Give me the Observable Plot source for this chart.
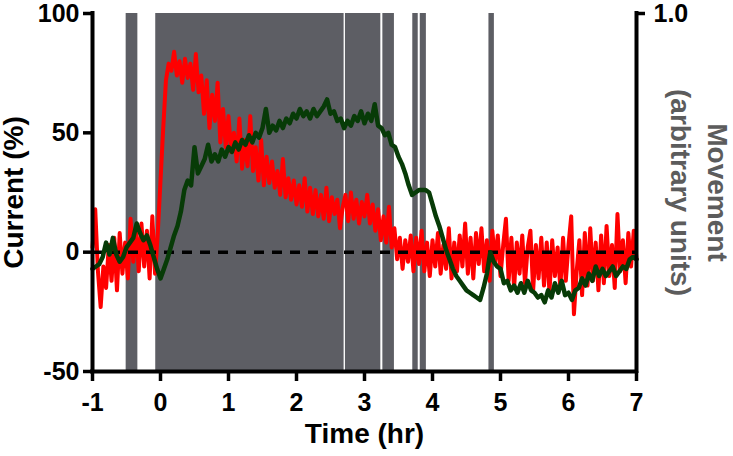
<!DOCTYPE html>
<html>
<head>
<meta charset="utf-8">
<script src="https://cdn.jsdelivr.net/npm/d3@7"></script>
<script src="https://cdn.jsdelivr.net/npm/@observablehq/plot@0.6"></script>
<style>
  html, body { margin: 0; padding: 0; background: #fff; }
  svg { display: block; }
</style>
</head>
<body>
<div id="chart"></div>
<script>
// ---------- data ----------
const timeTicks = [-1, 0, 1, 2, 3, 4, 5, 6, 7];
const currentTicks = [-50, 0, 50, 100];
const movementTicks = [1.0];

// movement periods (hours) and level (arbitrary units)
const moveStart = [-0.505, -0.07, 2.72, 3.27, 3.71, 3.82, 4.83];
const moveEnd   = [-0.333, 2.70, 3.24, 3.44, 3.79, 3.91, 4.91];
const moveLevel = [1, 1, 1, 1, 1, 1, 1];

// red trace: current (%), sampled every 0.04 h from -1 h
const redStart = -1, redStep = 0.04;
const redCurrent = [
  2, 18, -8, -23, -6, -15, 3, -12, 6, -16,
  8, -9, 4, -11, 14, -4, 10, -8, 12, -6,
  9, -11, 15, -9, 8, 30, 52, 72, 79, 76,
  84, 74, 80, 71, 81, 73, 79, 68, 83, 67,
  74, 58, 72, 52, 66, 55, 71, 46, 60, 44,
  57, 42, 50, 38, 56, 35, 47, 36, 57, 34,
  44, 30, 47, 28, 40, 29, 38, 27, 34, 24,
  39, 23, 31, 22, 30, 20, 28, 19, 31, 17,
  27, 16, 26, 15, 24, 14, 27, 13, 23, 16,
  22, 10, 19, 24, 13, 25, 14, 22, 12, 21,
  15, 24, 12, 20, 9, 18, 5, 15, 4, 19,
  2, 10, -3, 6, -7, 5, -4, 7, -8, 6,
  -5, 9, -8, 4, -10, 5, -6, 8, -9, 3,
  -7, 10, -11, 4, -8, 7, -6, 12, -9, 6,
  -11, 8, -5, 10, -8, 5, -12, 9, -4, 7,
  -10, 3, 14, -12, 6, -15, 4, -9, 7, -13,
  2, 9, -16, 3, -11, 6, -14, 4, -17, 5,
  -10, 2, -15, 6, -12, 3, 15, -26, -8, 5,
  -18, 8, -14, 10, -12, 4, -16, 7, -13, 11,
  -10, 3, -15, 16, -8, 5, -13, 8, -6, 9,
  -3
];

// green trace: sampled every 0.05 h from -1 h
const greenStart = -1, greenStep = 0.05;
const greenCurrent = [
  -7, -6, -5, -2, 4, -1, 6, -1, -4, -2,
  2, 4, 6, 12, 8, 5, 7, 3, -2, -7,
  -11, -7, -3, 2, 7, 11, 17, 26, 30, 28,
  44, 33, 36, 39, 45, 38, 41, 38, 43, 40,
  44, 42, 46, 43, 47, 45, 49, 46, 50, 48,
  52, 60, 50, 53, 51, 55, 52, 56, 54, 58,
  56, 60, 57, 59, 56, 60, 57, 59, 61, 64,
  58, 59, 55, 56, 52, 55, 53, 57, 55, 59,
  54, 58, 55, 62, 53, 52, 49, 50, 45, 44,
  40, 37, 33, 28, 24, 25, 26, 26, 26, 25,
  20, 15, 11, 6, 1, -3, -7, -10, -12, -14,
  -16, -17, -18, -19, -20, -15, -9, 0, -4, -6,
  -7, -13, -12, -16, -14, -17, -13, -17, -12, -16,
  -17, -19, -18, -21, -16, -19, -13, -17, -12, -18,
  -17, -20, -16, -15, -11, -14, -9, -12, -6, -10,
  -7, -10, -8, -6, -10, -8, -6, -7, -3, -2,
  -3
];

// ---------- build ----------
const yMin = currentTicks[0], yMax = currentTicks[currentTicks.length - 1];
// movement axis (right) shares the frame: 0 at bottom, 1.0 at top
const toLeft = m => yMin + m * (yMax - yMin);
const fromLeft = v => (v - yMin) / (yMax - yMin);

const bars = moveStart.map((s, i) => ({x1: s, x2: moveEnd[i], y1: yMin, y2: toLeft(moveLevel[i])}));
const red = redCurrent.map((v, i) => ({t: redStart + i * redStep, v}));
const green = greenCurrent.map((v, i) => ({t: greenStart + i * greenStep, v}));
const xMin = timeTicks[0], xMax = timeTicks[timeTicks.length - 1];

const chart = Plot.plot({
  width: 733,
  height: 456,
  marginLeft: 92,
  marginRight: 97,
  marginTop: 13,
  marginBottom: 85,
  x: {domain: [xMin, xMax]},
  y: {domain: [yMin, yMax]},
  style: {
    fontFamily: "'Liberation Sans', Arial, Helvetica, sans-serif",
    fontWeight: "bold",
    color: "black",
    background: "white",
    overflow: "visible"
  },
  marks: [
    Plot.rect(bars, {x1: "x1", x2: "x2", y1: "y1", y2: "y2", fill: "#5d5e64"}),
    Plot.line(red, {x: "t", y: "v", stroke: "#ff0000", strokeWidth: 4, strokeLinejoin: "round"}),
    Plot.ruleY([0], {x1: xMin, x2: xMax, stroke: "black", strokeWidth: 3.5, strokeDasharray: "10,8"}),
    Plot.line(green, {x: "t", y: "v", stroke: "#073b07", strokeWidth: 4.5, strokeLinejoin: "round"}),
    Plot.ruleX([xMin, xMax], {y1: yMin, y2: yMax, stroke: "black", strokeWidth: 4, strokeLinecap: "square"}),
    Plot.ruleY([yMin], {x1: xMin, x2: xMax, stroke: "black", strokeWidth: 4, strokeLinecap: "square"}),
    Plot.axisX({ticks: timeTicks, tickSize: 10, tickPadding: 12, fontSize: 25, strokeWidth: 3.5, tickFormat: d => String(d), label: null}),
    Plot.axisY({ticks: currentTicks, tickSize: 9, tickPadding: 4, fontSize: 25, strokeWidth: 3.5, tickFormat: d => String(d), label: null}),
    Plot.axisY({anchor: "right", ticks: movementTicks.map(toLeft), tickSize: 8, tickPadding: 9, fontSize: 25, strokeWidth: 3.5,
      tickFormat: d => fromLeft(d).toFixed(1), label: null}),
    Plot.text(["Time (hr)"], {text: d => d, frameAnchor: "bottom", textAnchor: "middle", dy: 71, fontSize: 28}),
    Plot.text(["Current (%)"], {text: d => d, frameAnchor: "left", textAnchor: "middle", rotate: -90, dx: -78, fontSize: 28}),
    Plot.text(["Movement"], {text: d => d, frameAnchor: "right", textAnchor: "middle", rotate: 90, dx: 80, fontSize: 28, fill: "#5c5c5c"}),
    Plot.text(["(arbitrary units)"], {text: d => d, frameAnchor: "right", textAnchor: "middle", rotate: 90, dx: 43, fontSize: 28, fill: "#5c5c5c"})
  ]
});
document.getElementById("chart").appendChild(chart);
</script>
</body>
</html>
